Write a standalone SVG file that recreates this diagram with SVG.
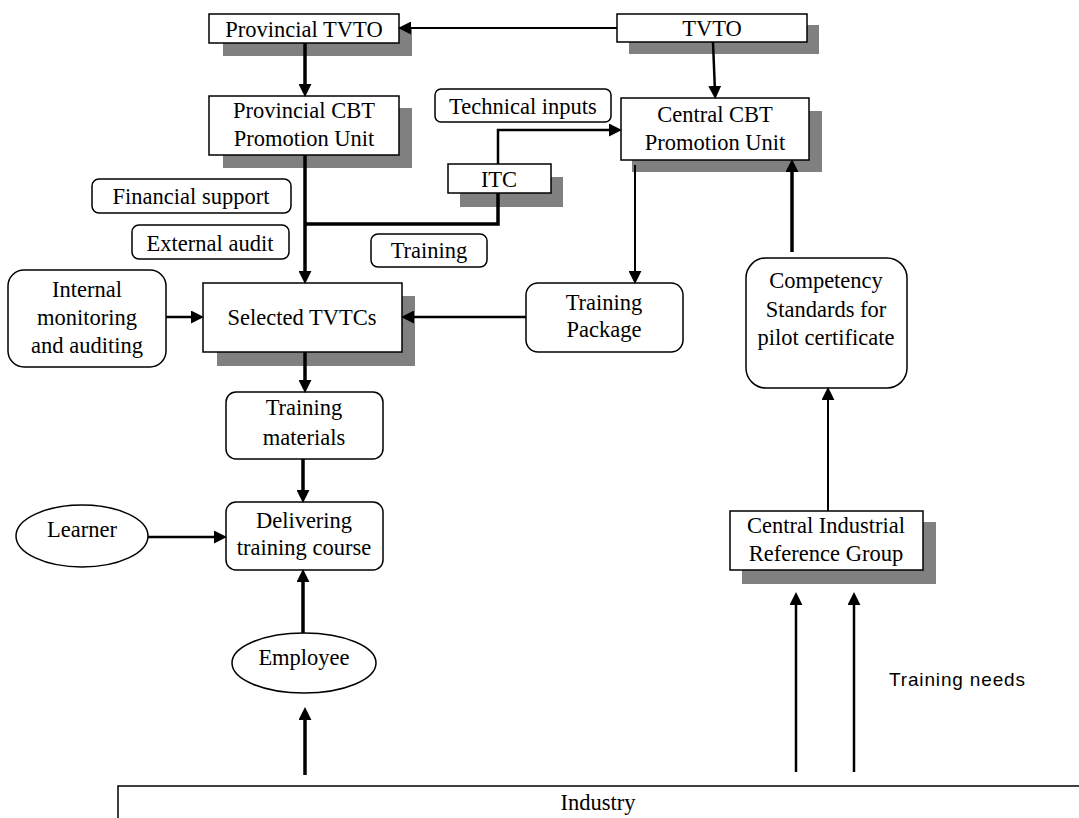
<svg xmlns="http://www.w3.org/2000/svg" width="1079" height="818" viewBox="0 0 1079 818">
<style>
.box{fill:#fff;stroke:#000;stroke-width:1.5}
.sh{fill:#808080;stroke:none}
.t{font-family:"Liberation Serif","Times New Roman",serif;font-size:22.5px;fill:#000;text-anchor:middle}
.s{font-family:"Liberation Sans",Arial,sans-serif;font-size:19px;fill:#000}
.c{fill:none;stroke:#000;stroke-linecap:butt;stroke-linejoin:miter}
.k{stroke-width:3.5}
.m{stroke-width:2.5}
.n{stroke-width:2}
</style>
<defs>
<marker id="ah" markerUnits="userSpaceOnUse" markerWidth="13" markerHeight="13" viewBox="0 0 12 12" refX="1" refY="6" orient="auto">
<path d="M0,0 L12,6 L0,12 z" fill="#000"/>
</marker>
</defs>
<rect width="1079" height="818" fill="#fff"/>

<g id="industry">
<path d="M118,818 L118,786 L1079,786" fill="#fff" stroke="#000" stroke-width="1.5"/>
<text class="t" x="598" y="810">Industry</text>
</g>

<g id="provincial-tvto">
<rect class="sh" x="223" y="27" width="189" height="29"/>
<rect class="box" x="209" y="14" width="190" height="29"/>
<text class="t" x="304" y="37">Provincial TVTO</text>
</g>

<g id="tvto">
<rect class="sh" x="629" y="25" width="190" height="29"/>
<rect class="box" x="617" y="14" width="190" height="28"/>
<text class="t" x="712" y="36">TVTO</text>
</g>

<g id="provincial-cbt">
<rect class="sh" x="223" y="108" width="189" height="60"/>
<rect class="box" x="209" y="96" width="190" height="59"/>
<text class="t" x="304" y="118">Provincial CBT</text>
<text class="t" x="304" y="146">Promotion Unit</text>
</g>

<g id="central-cbt">
<rect class="sh" x="632" y="111" width="190" height="61"/>
<rect class="box" x="621" y="98" width="188" height="62"/>
<text class="t" x="715" y="122">Central CBT</text>
<text class="t" x="715" y="150">Promotion Unit</text>
</g>

<g id="technical-inputs">
<rect class="box" x="435" y="89" width="176" height="33" rx="6"/>
<text class="t" x="523" y="114">Technical inputs</text>
</g>

<g id="itc">
<rect class="sh" x="460" y="177" width="103" height="30"/>
<rect class="box" x="448" y="164" width="103" height="29"/>
<text class="t" x="499" y="187">ITC</text>
</g>

<g id="financial-support">
<rect class="box" x="92" y="179" width="199" height="34" rx="7"/>
<text class="t" x="191" y="204">Financial support</text>
</g>

<g id="external-audit">
<rect class="box" x="132" y="225" width="157" height="34" rx="7"/>
<text class="t" x="210" y="251">External audit</text>
</g>

<g id="training">
<rect class="box" x="371" y="234" width="116" height="33" rx="7"/>
<text class="t" x="429" y="258">Training</text>
</g>

<g id="internal-monitoring">
<rect class="box" x="8" y="270" width="158" height="97" rx="16"/>
<text class="t" x="87" y="297">Internal</text>
<text class="t" x="87" y="325">monitoring</text>
<text class="t" x="87" y="353">and auditing</text>
</g>

<g id="selected-tvtcs">
<rect class="sh" x="217" y="296" width="198" height="70"/>
<rect class="box" x="203" y="283" width="199" height="69"/>
<text class="t" x="302" y="325">Selected TVTCs</text>
</g>

<g id="training-package">
<rect class="box" x="526" y="283" width="157" height="69" rx="12"/>
<text class="t" x="604" y="310">Training</text>
<text class="t" x="604" y="337">Package</text>
</g>

<g id="competency-standards">
<rect class="box" x="746" y="258" width="161" height="130" rx="20"/>
<text class="t" x="826" y="288">Competency</text>
<text class="t" x="826" y="317">Standards for</text>
<text class="t" x="826" y="345">pilot certificate</text>
</g>

<g id="training-materials">
<rect class="box" x="226" y="392" width="157" height="67" rx="10"/>
<text class="t" x="304" y="415">Training</text>
<text class="t" x="304" y="445">materials</text>
</g>

<g id="delivering">
<rect class="box" x="226" y="502" width="157" height="68" rx="10"/>
<text class="t" x="304" y="528">Delivering</text>
<text class="t" x="304" y="555">training course</text>
</g>

<g id="learner">
<ellipse class="box" cx="82" cy="536" rx="66" ry="31"/>
<text class="t" x="82" y="537">Learner</text>
</g>

<g id="employee">
<ellipse class="box" cx="304" cy="663" rx="72" ry="30"/>
<text class="t" x="304" y="665">Employee</text>
</g>

<g id="cirg">
<rect class="sh" x="742" y="522" width="194" height="62"/>
<rect class="box" x="730" y="511" width="193" height="59"/>
<text class="t" x="826" y="533">Central Industrial</text>
<text class="t" x="826" y="561">Reference Group</text>
</g>

<text class="s" x="889" y="686" textLength="136">Training needs</text>

<g id="connectors">
<path class="c n" d="M617,28 L410,28" marker-end="url(#ah)"/>
<path class="c k" d="M305,43 L305,85" marker-end="url(#ah)"/>
<path class="c m" d="M713,42 L714.8,87" marker-end="url(#ah)"/>
<path class="c m" d="M498,164 L498,130 L610,130" marker-end="url(#ah)"/>
<path class="c k" d="M498,193 L498,224 L305,224"/>
<path class="c k" d="M305,155 L305,272" marker-end="url(#ah)"/>
<path class="c m" d="M166,317 L192,317" marker-end="url(#ah)"/>
<path class="c m" d="M526,317 L413,317" marker-end="url(#ah)"/>
<path class="c n" d="M635,165 L635,272" marker-end="url(#ah)"/>
<path class="c k" d="M792,252 L792,171" marker-end="url(#ah)"/>
<path class="c n" d="M828,511 L828,399" marker-end="url(#ah)"/>
<path class="c k" d="M305,352 L305,381" marker-end="url(#ah)"/>
<path class="c k" d="M303,459 L303,491" marker-end="url(#ah)"/>
<path class="c m" d="M148,537 L215,537" marker-end="url(#ah)"/>
<path class="c k" d="M303,633 L303,581" marker-end="url(#ah)"/>
<path class="c k" d="M305,775 L305,719" marker-end="url(#ah)"/>
<path class="c m" d="M796,772 L796,604" marker-end="url(#ah)"/>
<path class="c m" d="M854,772 L854,604" marker-end="url(#ah)"/>
</g>
</svg>
